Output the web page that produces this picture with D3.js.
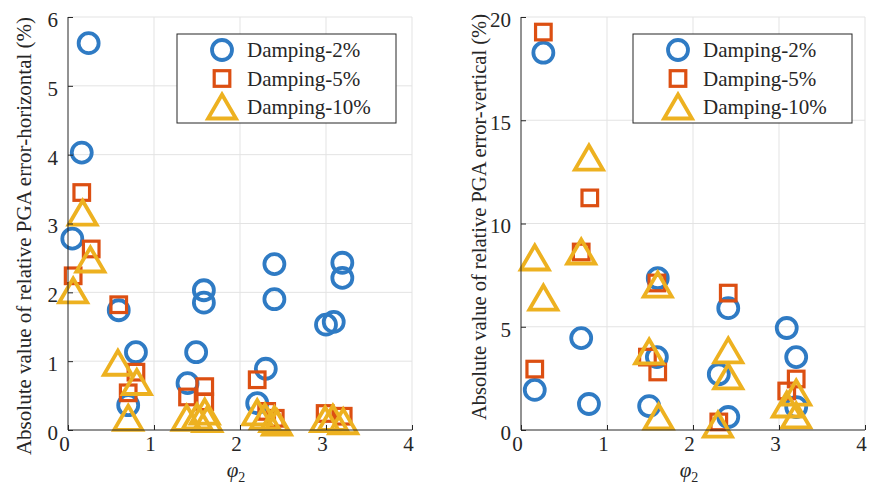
<!DOCTYPE html>
<html>
<head>
<meta charset="utf-8">
<script src="https://cdn.jsdelivr.net/npm/d3@7"></script>
<style>
body { margin: 0; background: #fff; }
.grid line { stroke: #e3e3e3; stroke-width: 1; }
.axis path, .axis line { stroke: #262626; stroke-width: 1; }
</style>
</head>
<body>
<div id="chart"></div>
<script>
var serif = "'Liberation Serif', 'Times New Roman', Times, 'DejaVu Serif', serif";

// series names and colours (MATLAB default order)
var seriesNames = ["Damping-2%", "Damping-5%", "Damping-10%"];
var seriesColors = ["#2f7bc4", "#dc4f12", "#edb120"];
var xTicks = [0, 1, 2, 3, 4];
var yTicksH = [0, 1, 2, 3, 4, 5, 6];
var yTicksV = [0, 5, 10, 15, 20];

// horizontal error, [phi2, value]
var h2 = [[0.24,5.62],[0.16,4.03],[0.05,2.78],[0.59,1.74],[0.79,1.13],[0.70,0.36],
          [1.49,1.13],[1.58,2.03],[1.58,1.85],[1.39,0.68],[2.30,0.89],[2.20,0.39],
          [2.40,2.41],[2.40,1.90],[3.19,2.43],[3.19,2.21],[3.00,1.53],[3.09,1.57]];
var h5 = [[0.16,3.45],[0.27,2.63],[0.06,2.24],[0.59,1.82],[0.79,0.84],[0.70,0.54],
          [1.39,0.48],[1.59,0.63],[1.59,0.41],[2.20,0.73],[2.31,0.27],[2.41,0.17],
          [2.99,0.24],[3.20,0.20]];
var h10 = [[0.17,3.15],[0.26,2.47],[0.06,2.02],[0.58,0.97],[0.80,0.69],[0.70,0.17],
           [1.38,0.17],[1.50,0.19],[1.59,0.26],[1.62,0.15],[2.20,0.25],[2.29,0.19],
           [2.40,0.15],[2.43,0.10],[2.99,0.15],[3.08,0.17],[3.20,0.12]];

// vertical error, [phi2, value]
var v2 = [[0.26,18.27],[0.70,4.45],[0.16,1.94],[0.79,1.26],[1.59,7.35],[1.58,3.53],
          [1.49,1.16],[2.41,5.90],[2.30,2.70],[2.41,0.63],[3.09,4.94],[3.20,3.53],[3.20,1.11]];
var v5 = [[0.26,19.27],[0.80,11.24],[0.16,2.95],[0.70,8.62],[1.58,7.12],[1.47,3.53],
          [1.59,2.81],[2.41,6.63],[2.30,0.39],[3.20,2.47],[3.09,1.89]];
var v10 = [[0.79,13.17],[0.16,8.33],[0.26,6.39],[0.70,8.62],[1.59,7.02],[1.49,3.78],
           [1.60,0.63],[2.41,3.83],[2.41,2.57],[2.29,0.24],[3.20,1.79],[3.09,1.21],[3.20,0.68]];

var width = 876, height = 486;
var fs = 21;
var svg = d3.select("#chart").append("svg")
    .attr("width", width)
    .attr("height", height)
    .attr("font-family", serif);

// draw one marker of a series at (0,0) inside group g
function marker(g, k) {
    if (k === 0) {
        g.append("circle").attr("r", 10)
            .attr("fill", "none").attr("stroke", seriesColors[0]).attr("stroke-width", 3.8);
    } else if (k === 1) {
        g.append("rect").attr("x", -7.8).attr("y", -7.8).attr("width", 15.6).attr("height", 15.6)
            .attr("fill", "none").attr("stroke", seriesColors[1]).attr("stroke-width", 3.2);
    } else {
        g.append("path").attr("d", "M0,-12.5L14,11.5L-14,11.5Z")
            .attr("fill", "none").attr("stroke", seriesColors[2]).attr("stroke-width", 3.8)
            .attr("stroke-linejoin", "miter");
    }
}

function panel(opt) {
    var x = d3.scaleLinear().domain([0, 4]).range([opt.left, opt.left + 344]);
    var y = d3.scaleLinear().domain([0, opt.yMax]).range([430, 17]);

    var grid = svg.append("g").attr("class", "grid");
    grid.selectAll(".gx").data(xTicks.slice(1)).enter().append("line")
        .attr("x1", d => x(d)).attr("x2", d => x(d)).attr("y1", y(0)).attr("y2", y(opt.yMax));
    grid.selectAll(".gy").data(opt.yTicks.slice(1)).enter().append("line")
        .attr("x1", x(0)).attr("x2", x(4)).attr("y1", d => y(d)).attr("y2", d => y(d));

    // markers
    opt.series.forEach(function(data, k) {
        data.forEach(function(d) {
            var g = svg.append("g").attr("transform", "translate(" + x(d[0]) + "," + y(d[1]) + ")");
            marker(g, k);
        });
    });

    // axes, ticks inward
    var xAxis = d3.axisBottom(x).tickValues(xTicks).tickFormat(d3.format("d")).tickSize(-5).tickPadding(6);
    var yAxis = d3.axisLeft(y).tickValues(opt.yTicks).tickFormat(d3.format("d")).tickSize(-5).tickPadding(10);
    var gx = svg.append("g").attr("class", "axis").attr("transform", "translate(0," + y(0) + ")").call(xAxis);
    gx.select(".domain").attr("d", "M" + x(0) + ",0H" + x(4));
    gx.selectAll("text").attr("dx", -4);
    var gy = svg.append("g").attr("class", "axis").attr("transform", "translate(" + x(0) + ",0)").call(yAxis);
    gy.select(".domain").attr("d", "M0," + y(0) + "V" + y(opt.yMax));
    gy.selectAll("text").attr("dy", "0.45em");
    svg.selectAll(".axis").attr("font-family", serif).attr("font-size", fs);
    svg.selectAll(".axis text").attr("fill", "#262626");

    // axis labels
    var xl = svg.append("text").attr("x", x(2) - 4).attr("y", 477)
        .attr("text-anchor", "middle").attr("font-size", fs).attr("fill", "#262626");
    xl.append("tspan").attr("font-style", "italic").text("φ");
    xl.append("tspan").attr("font-size", 14).attr("dy", 5).text("2");

    svg.append("text")
        .attr("transform", "translate(" + opt.labelX + "," + opt.labelY + ") rotate(-90)")
        .attr("text-anchor", "middle").attr("font-size", opt.labelSize).attr("fill", "#262626")
        .text(opt.yLabel);

    // legend
    var lg = svg.append("g").attr("transform", "translate(" + opt.legX + ",34)");
    lg.append("rect").attr("width", opt.legW).attr("height", 89)
        .attr("fill", "#fff").attr("stroke", "#262626").attr("stroke-width", 1);
    seriesNames.forEach(function(name, k) {
        var row = lg.append("g").attr("transform", "translate(45," + (16 + k * 28.5) + ")");
        marker(row, k);
        row.append("text").attr("x", 25).attr("y", 7).attr("font-size", fs)
            .attr("fill", "#262626").text(name);
    });
}

panel({ left: 68, yMax: 6, yTicks: yTicksH, series: [h2, h5, h10],
        yLabel: "Absolute value of relative PGA error-horizontal (%)",
        labelX: 31, labelY: 236, labelSize: 21, legX: 177, legW: 219 });
panel({ left: 521, yMax: 20, yTicks: yTicksV, series: [v2, v5, v10],
        yLabel: "Absolute value of relative PGA error-vertical (%)",
        labelX: 486, labelY: 217, labelSize: 20.5, legX: 633, legW: 219 });
</script>
</body>
</html>
